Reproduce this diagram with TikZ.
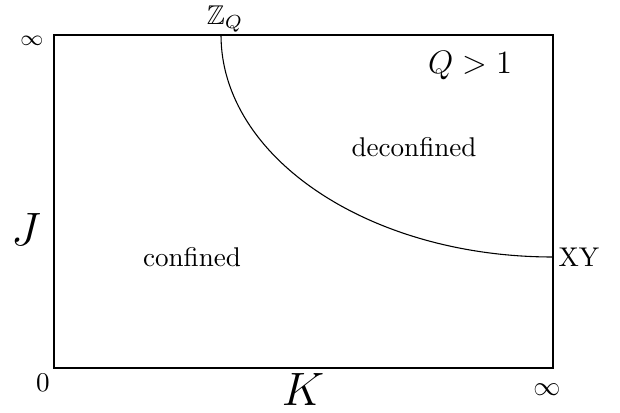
\documentclass[tikz,border=0pt]{standalone}
\usepackage{amssymb}
\usepackage{tikz}
\tikzset{
  lbl/.style={font=\normalsize,inner sep=0pt},
  small/.style={font=\footnotesize,inner sep=0pt},
  big/.style={font=\fontsize{18}{20}\selectfont,inner sep=0pt},
  bdry/.style={line width=0.4pt,color=black}}

\begin{document}
\begin{tikzpicture}[x=0.369pt,y=0.369pt]
\useasboundingbox (0,0) rectangle (620,413);
% frame
\draw[bdry] (54,45) rectangle (553,378);
% phase boundary
\coordinate (zq) at (221,378);
\coordinate (xy) at (553,156);
\draw[bdry] (zq) arc[start angle=180,end angle=270,x radius=122.51pt,y radius=81.92pt];
% axis ends
\node[small] (jinf) at (32,372) {$\infty$};
\node[lbl] (zero) at (43,30) {$0$};
\node[lbl] (kinf) at (547,23) {$\infty$};
\node[big] (J) at (26,183) {$J$};
\node[big] (K) at (303,23) {$K$};
% labels
\node[lbl,anchor=base] (zql) at (225,388.5) {$\mathbb{Z}_Q$};
\node[lbl,anchor=west] (xyl) at (558,156) {XY};
\node[lbl,font=\large] (q) at (470,347) {$Q>1$};
\node[lbl] (dec) at (414,266) {deconfined};
\node[lbl] (con) at (192,156) {confined};
\end{tikzpicture}
\end{document}
